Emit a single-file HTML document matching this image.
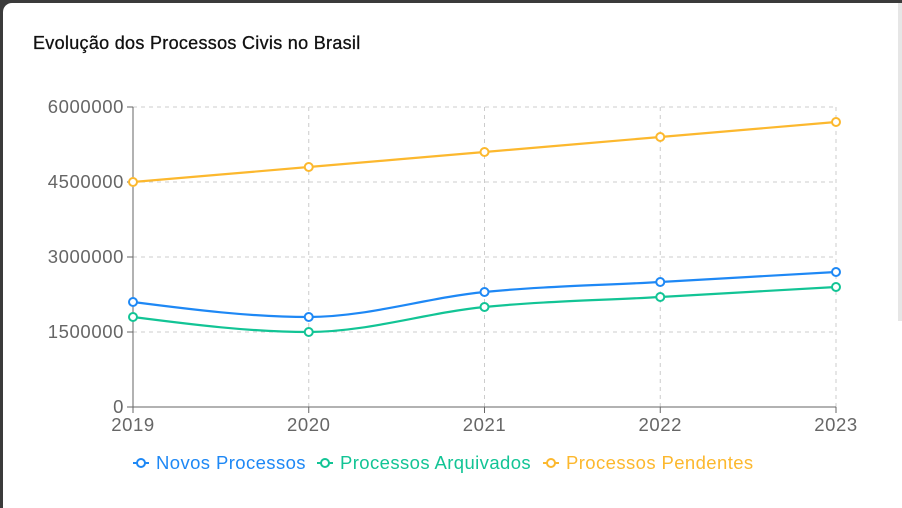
<!DOCTYPE html>
<html><head><meta charset="utf-8"><style>
html,body{margin:0;padding:0;width:902px;height:508px;overflow:hidden;background:#3b3b3b;font-family:"Liberation Sans",sans-serif}
#card{position:absolute;left:3px;top:3px;width:899px;height:505px;background:#fff;border-top-left-radius:9px}
#strip{position:absolute;left:898px;top:3px;width:4px;height:318px;background:#e6e6e6}
#title{position:absolute;left:33px;top:33px;font-size:18px;letter-spacing:0.3px;color:#111;-webkit-text-stroke:0.3px #111}
svg{position:absolute;left:0;top:0}
</style></head><body>
<div id="card"></div>
<div id="strip"></div>
<div id="title">Evolução dos Processos Civis no Brasil</div>
<svg id="chart" width="902" height="508"></svg>
<script>
const years=["2019","2020","2021","2022","2023"];
const novos=[2100000,1800000,2300000,2500000,2700000];
const arquivados=[1800000,1500000,2000000,2200000,2400000];
const pendentes=[4500000,4800000,5100000,5400000,5700000];
const yTicks=[0,1500000,3000000,4500000,6000000];
const seriesNames=["Novos Processos","Processos Arquivados","Processos Pendentes"];
const seriesColors=["#1e88f5","#12c495","#fcb82e"];
const NS="http://www.w3.org/2000/svg";
const svg=document.getElementById('chart');
const X0=133,X1=836,Y0=407,Y1=107,YMAX=6000000;
const FONT='Liberation Sans, sans-serif';
const x=i=>X0+(X1-X0)*i/(years.length-1);
const y=v=>Y0-(Y0-Y1)*v/YMAX;
function mk(t,a,name,inter){const e=document.createElementNS(NS,t);for(const k in a)e.setAttribute(k,a[k]);


svg.appendChild(e);return e;}
yTicks.forEach(v=>{if(v>0)mk('line',{x1:X0,x2:X1,y1:y(v),y2:y(v),stroke:'#ccc','stroke-dasharray':'4 4'},'grid-line-h');});
years.forEach((yr,i)=>{if(i>0)mk('line',{x1:x(i),x2:x(i),y1:Y1,y2:Y0,stroke:'#ccc','stroke-dasharray':'4 4'},'grid-line-v');});
mk('line',{x1:X0,x2:X0,y1:Y1,y2:Y0,stroke:'#666'},'y-axis');
mk('line',{x1:X0,x2:X1,y1:Y0,y2:Y0,stroke:'#666'},'x-axis');
yTicks.forEach(v=>{mk('line',{x1:X0-6,x2:X0,y1:y(v),y2:y(v),stroke:'#666'},'y-tick');
const t=mk('text',{x:X0-9,y:y(v)+6,'text-anchor':'end','font-size':18.5,'letter-spacing':0.6,fill:'#666','font-family':FONT},'y-tick-label');t.textContent=String(v);});
years.forEach((yr,i)=>{mk('line',{x1:x(i),x2:x(i),y1:Y0,y2:Y0+6,stroke:'#666'},'x-tick');
const t=mk('text',{x:x(i),y:Y0+24,'text-anchor':'middle','font-size':18.5,'letter-spacing':0.6,fill:'#666','font-family':FONT},'x-tick-label');t.textContent=yr;});
function monotone(pts){const n=pts.length;const d=[],m=[];
for(let i=0;i<n-1;i++)d.push((pts[i+1][1]-pts[i][1])/(pts[i+1][0]-pts[i][0]));
for(let i=0;i<n;i++){if(i==0)m.push(d[0]);else if(i==n-1)m.push(d[n-2]);else{
if(d[i-1]*d[i]<=0)m.push(0);else{const h0=pts[i][0]-pts[i-1][0],h1=pts[i+1][0]-pts[i][0];
const p=(d[i-1]*h1+d[i]*h0)/(h0+h1);m.push((Math.sign(d[i-1])+Math.sign(d[i]))*Math.min(Math.abs(d[i-1]),Math.abs(d[i]),0.5*Math.abs(p)));}}}
if(n>2){m[0]=(3*d[0]-m[1])/2;m[n-1]=(3*d[n-2]-m[n-2])/2;}
let s=`M${pts[0][0]},${pts[0][1]}`;
for(let i=0;i<n-1;i++){const h=(pts[i+1][0]-pts[i][0])/3;
s+=` C${pts[i][0]+h},${pts[i][1]+m[i]*h} ${pts[i+1][0]-h},${pts[i+1][1]-m[i+1]*h} ${pts[i+1][0]},${pts[i+1][1]}`;}return s;}
[novos,arquivados,pendentes].forEach((data,si)=>{
const pts=data.map((v,i)=>[x(i),y(v)]);
mk('path',{d:monotone(pts),fill:'none',stroke:seriesColors[si],'stroke-width':2.2},'series-line-'+si);
pts.forEach(p=>mk('circle',{cx:p[0],cy:p[1],r:4,fill:'#fff',stroke:seriesColors[si],'stroke-width':2},'data-point'));
});
const legX=[133,317,543];
seriesNames.forEach((nm,i)=>{const lx=legX[i],ly=463;
mk('line',{x1:lx,x2:lx+16,y1:ly,y2:ly,stroke:seriesColors[i],'stroke-width':2},'legend-line');
mk('circle',{cx:lx+8,cy:ly,r:4,fill:'#fff',stroke:seriesColors[i],'stroke-width':2},'legend-marker');
const t=mk('text',{x:lx+23,y:ly+6,'font-size':18.5,'letter-spacing':0.4,fill:seriesColors[i],'font-family':FONT},'legend-entry');t.textContent=nm;});
</script>
</body></html>
